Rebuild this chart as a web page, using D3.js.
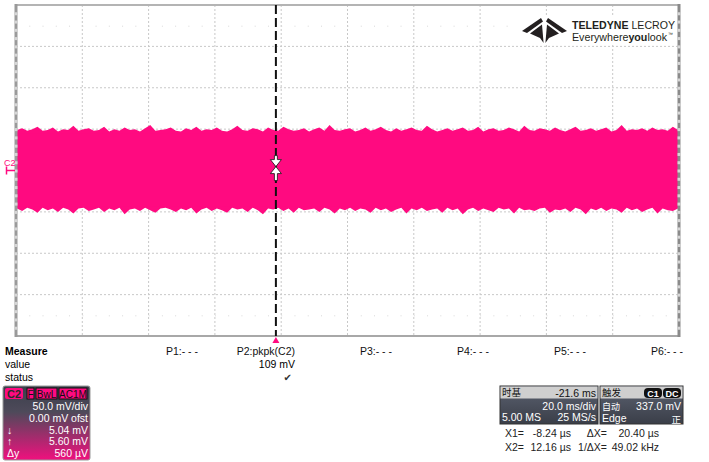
<!DOCTYPE html>
<html><head><meta charset="utf-8">
<script src="https://cdn.jsdelivr.net/npm/d3@7/dist/d3.min.js"></script>
<style>
html,body{margin:0;padding:0;background:#fff;}
svg{display:block;font-family:"Liberation Sans",Arial,sans-serif;}
</style></head>
<body>
<script>
// ---- data ----
const timeDomain = [-78.4, 121.6];          // ms, 20 ms/div, delay -21.6 ms
const voltDomain = [-200, 200];             // mV, 50 mV/div
const xDivisions = [1,2,3,4,5,6,7,8,9];
const yDivisions = [1,2,3,4,5,6,7];
// noise envelope of C2 (mV)
const upperEnv = [49,51,48,50,53,48,49,52,47,50,49,54,48,50,51,48,49,53,47,50,48,52,49,50,47,51,55,48,49,50,52,48,47,51,49,53,48,50,49,52,48,47,50,54,49,48,51,50,47,52,49,48,53,50,48,49,51,47,50,52,48,55,49,48,50,51,47,49,52,48,50,53,49,47,51,48,50,52,49,48,54,50,47,49,51,48,50,52,48,49,53,47,50,51,48,49,52,50,47,54,49,48,51,50,48,52,49,47,50,53,48,49,51,48,50,52,47,49,55,48,50,49,51,48,52,49,50,48,53,49];
const lowerEnv = [-46,-49,-45,-47,-51,-45,-48,-46,-50,-45,-47,-52,-46,-45,-49,-47,-45,-50,-46,-48,-45,-53,-47,-46,-49,-45,-48,-51,-46,-45,-47,-50,-46,-48,-45,-52,-47,-45,-49,-46,-48,-51,-45,-47,-46,-50,-45,-48,-53,-46,-47,-45,-49,-46,-51,-45,-48,-47,-46,-50,-45,-47,-52,-46,-48,-45,-49,-46,-47,-51,-45,-48,-46,-50,-47,-45,-52,-46,-48,-45,-49,-47,-46,-51,-45,-48,-46,-53,-47,-45,-49,-46,-48,-50,-45,-47,-46,-52,-45,-48,-47,-49,-46,-45,-51,-47,-48,-46,-50,-45,-47,-53,-46,-48,-45,-49,-46,-47,-51,-45,-48,-46,-50,-47,-45,-52,-46,-48,-49,-46];
const triggerTime = 0;
const paramLabels = ["P1:- - -","P2:pkpk(C2)","P3:- - -","P4:- - -","P5:- - -","P6:- - -"];
const paramValues = ["","109 mV","","","",""];
const paramStatus = ["","\u2714","","","",""];
const c2Rows = [["","50.0 mV/div"],["","0.00 mV ofst"],["\u2193","5.04 mV"],["\u2191","5.60 mV"],["\u0394y","560 \u00b5V"]];
const c2Tags = ["F","BwL","AC1M"];
const tbHeader = ["\u65f6\u57fa","-21.6 ms"];
const tbRows = [["","20.0 ms/div"],["5.00 MS","25 MS/s"]];
const trHeader = "\u89e6\u53d1";
const trTags = ["C1","DC"];
const trRows = [["\u81ea\u52a8","337.0 mV"],["Edge","\u6b63"]];
const cursorRows = [["X1=","-8.24 \u00b5s","\u0394X=","20.40 \u00b5s"],["X2=","12.16 \u00b5s","1/\u0394X=","49.02 kHz"]];

// ---- layout ----
const W=709,H=462;
const L=16,R=679,T=5,B=336;
const MAG="#ff0a80";
const svg=d3.select("body").append("svg").attr("width",W).attr("height",H);
const x=d3.scaleLinear().domain(timeDomain).range([L,R]);
const y=d3.scaleLinear().domain(voltDomain).range([B,T]);
const xd=d3.scaleLinear().domain([0,10]).range([L,R]);
const yd=d3.scaleLinear().domain([0,8]).range([T,B]);

// grid
const g=svg.append("g");
g.selectAll(".vg").data(xDivisions).join("line").attr("x1",d=>xd(d)).attr("x2",d=>xd(d)).attr("y1",T).attr("y2",B)
 .attr("stroke","#c8c8c8").attr("stroke-width",1).attr("stroke-dasharray","2,2");
g.selectAll(".hg").data(yDivisions).join("line").attr("y1",d=>yd(d)).attr("y2",d=>yd(d)).attr("x1",L).attr("x2",R)
 .attr("stroke","#c8c8c8").attr("stroke-width",1).attr("stroke-dasharray","2,2");
// faint minor dots
[0.5,7.5].forEach(r=>{
  g.selectAll(null).data(d3.range(1,50)).join("rect").attr("x",d=>xd(d/5)).attr("y",yd(r)).attr("width",1).attr("height",1).attr("fill","#d8d8d8");
});

// logo
const lg=svg.append("g");
lg.append("rect").attr("x",516).attr("y",15).attr("width",162).attr("height",30).attr("fill","#fff");
const ic=[[[522,31],[541,18],[543,21.5],[527,33]],[[567,31],[548,18],[546,21.5],[562,33]],
          [[530,33.5],[542,24.5],[543.6,43],[540,38]],[[559,33.5],[547,24.5],[545.4,43],[549,38]]];
lg.selectAll("polygon").data(ic).join("polygon").attr("points",d=>d.map(p=>p.join(",")).join(" ")).attr("fill","#231f20");
const t1=lg.append("text").attr("x",572).attr("y",28.5).attr("font-size",11).attr("fill","#231f20").attr("textLength",103).attr("lengthAdjust","spacingAndGlyphs");
t1.append("tspan").attr("font-weight","bold").text("TELEDYNE ");
t1.append("tspan").text("LECROY");
const t2=lg.append("text").attr("x",572).attr("y",40.5).attr("font-size",10.5).attr("fill","#231f20").attr("textLength",95).attr("lengthAdjust","spacingAndGlyphs");
t2.append("tspan").text("Everywhere");
t2.append("tspan").attr("font-weight","bold").text("you");
t2.append("tspan").text("look");
lg.append("text").attr("x",668).attr("y",35.5).attr("font-size",5).attr("fill","#231f20").text("\u2122");

// signal
const xu=d3.scaleLinear().domain([0,upperEnv.length-1]).range([L+1,R-1]);
const xl=d3.scaleLinear().domain([0,lowerEnv.length-1]).range([L+1,R-1]);
const pts=upperEnv.map((v,i)=>[xu(i),y(v)]).concat(lowerEnv.map((v,i)=>[xl(i),y(v)]).reverse());
svg.append("path").attr("d",d3.line()(pts)+"Z").attr("fill",MAG);
svg.append("rect").attr("x",L+1).attr("y",y(45)).attr("width",R-L-2).attr("height",y(-43)-y(45)).attr("fill",MAG);

// frame
svg.append("line").attr("x1",L).attr("x2",R).attr("y1",T).attr("y2",T).attr("stroke","#b4b4b4").attr("stroke-width",2);
svg.append("line").attr("x1",L).attr("x2",R).attr("y1",B).attr("y2",B).attr("stroke","#a8a8a8").attr("stroke-width",2);
svg.append("line").attr("x1",L).attr("x2",L).attr("y1",T-1).attr("y2",B+1).attr("stroke","#9a9a9a").attr("stroke-width",3);
svg.append("line").attr("x1",R).attr("x2",R).attr("y1",T-1).attr("y2",B+1).attr("stroke","#8a8a8a").attr("stroke-width",3);
[L,R].forEach(px=>{
  svg.selectAll(null).data(d3.range(1,40)).join("rect").attr("x",px-1.5).attr("y",d=>yd(d/5)-1).attr("width",3).attr("height",3).attr("fill","#d6d6d6");
});

// trigger line
const tx=x(triggerTime);
svg.append("line").attr("x1",tx).attr("x2",tx).attr("y1",T).attr("y2",B).attr("stroke","#111").attr("stroke-width",2).attr("stroke-dasharray","9,4");
svg.append("path").attr("d",`M${tx},${B+1}L${tx+3.5},${B+7}L${tx-3.5},${B+7}Z`).attr("fill",MAG);

// cursor marker
const cy=y(3.5);
svg.append("path").attr("d",`M${tx-1.5},${cy-12}H${tx+1.5}V${cy-8}H${tx+5.5}L${tx},${cy-1}L${tx+5.5},${cy+6}H${tx+1.5}V${cy+13}H${tx-1.5}V${cy+6}H${tx-5.5}L${tx},${cy-1}L${tx-5.5},${cy-8}H${tx-1.5}Z`)
 .attr("fill","#fff").attr("stroke","#111").attr("stroke-width",0.8);

// channel marker
svg.append("text").attr("x",4).attr("y",y(6)).attr("font-size",9).attr("fill",MAG).text("C2");
svg.append("path").attr("d",`M6,${y(0)}H15M6.5,${y(0)-4}V${y(0)+4}`).attr("stroke",MAG).attr("stroke-width",1.5).attr("fill","none");

// measure table
const fs=10.5;
svg.append("text").attr("x",5).attr("y",355).attr("font-size",fs).attr("font-weight","bold").text("Measure");
svg.append("text").attr("x",5).attr("y",368).attr("font-size",fs).text("value");
svg.append("text").attr("x",5).attr("y",381).attr("font-size",fs).text("status");
const colR=d3.scaleLinear().domain([0,5]).range([198,683]);
svg.selectAll(".pl").data(paramLabels).join("text").attr("x",(d,i)=>colR(i)).attr("y",355).attr("font-size",fs).attr("text-anchor","end").attr("fill","#111").text(d=>d);
svg.selectAll(".pv").data(paramValues).join("text").attr("x",(d,i)=>colR(i)).attr("y",368).attr("font-size",fs).attr("text-anchor","end").text(d=>d);
svg.selectAll(".ps").data(paramStatus).join("text").attr("x",(d,i)=>colR(i)-3).attr("y",381).attr("font-size",10).attr("fill","#333").attr("text-anchor","end").attr("font-family","DejaVu Sans").text(d=>d);

// C2 box
const defs=svg.append("defs");
const gr=defs.append("linearGradient").attr("id","c2g").attr("x1",0).attr("x2",0).attr("y1",0).attr("y2",1);
gr.append("stop").attr("offset","0%").attr("stop-color","#3a3f4b");
gr.append("stop").attr("offset","35%").attr("stop-color","#4e4a5a");
gr.append("stop").attr("offset","100%").attr("stop-color","#f0107e");
svg.append("rect").attr("x",3).attr("y",386).attr("width",87).attr("height",74).attr("rx",2).attr("fill","url(#c2g)").attr("stroke","#999");
svg.append("rect").attr("x",5).attr("y",388).attr("width",18).attr("height",11).attr("rx",2).attr("fill",MAG);
svg.append("text").attr("x",14).attr("y",397.5).attr("font-size",11).attr("font-weight","bold").attr("fill","#2a2a2a").attr("text-anchor","middle").text("C2");
const tagX=[27,36,59],tagW=[7,21,28];
c2Tags.forEach((t,i)=>{
  svg.append("rect").attr("x",tagX[i]).attr("y",388).attr("width",tagW[i]).attr("height",11).attr("fill",MAG).attr("stroke","#111").attr("stroke-width",1);
  svg.append("text").attr("x",tagX[i]+tagW[i]/2).attr("y",397.5).attr("font-size",10).attr("fill","#111").attr("text-anchor","middle").text(t);
});
c2Rows.forEach((r,i)=>{
  const yy=410+i*11.8;
  svg.append("text").attr("x",7).attr("y",yy).attr("font-size",fs).attr("fill","#fff").text(r[0]);
  svg.append("text").attr("x",88).attr("y",yy).attr("font-size",fs).attr("fill","#fff").attr("text-anchor","end").text(r[1]);
});

// timebase / trigger boxes
const dg=defs.append("linearGradient").attr("id","dkg").attr("x1",0).attr("x2",0).attr("y1",0).attr("y2",1);
dg.append("stop").attr("offset","0%").attr("stop-color","#5b6170");
dg.append("stop").attr("offset","100%").attr("stop-color","#3a3e48");
function box(x0,w){
  svg.append("rect").attr("x",x0).attr("y",386).attr("width",w).attr("height",38).attr("fill","url(#dkg)").attr("stroke","#333");
  svg.append("rect").attr("x",x0+0.5).attr("y",386.5).attr("width",w-1).attr("height",12).attr("fill","#cfcfcf");
}
box(500,98); box(600,83);
const cjk='"Noto Sans CJK SC",sans-serif';
svg.append("text").attr("x",502).attr("y",396).attr("font-size",9.5).attr("font-family",cjk).attr("fill","#111").text(tbHeader[0]);
svg.append("text").attr("x",596).attr("y",396.5).attr("font-size",fs).attr("fill","#111").attr("text-anchor","end").text(tbHeader[1]);
tbRows.forEach((r,i)=>{
  const yy=409.5+i*11.5;
  svg.append("text").attr("x",502).attr("y",yy).attr("font-size",fs).attr("fill","#fff").text(r[0]);
  svg.append("text").attr("x",596).attr("y",yy).attr("font-size",fs).attr("fill","#fff").attr("text-anchor","end").text(r[1]);
});
svg.append("text").attr("x",602).attr("y",396).attr("font-size",9.5).attr("font-family",cjk).attr("fill","#111").text(trHeader);
const trX=[644,663];
trTags.forEach((t,i)=>{
  svg.append("rect").attr("x",trX[i]).attr("y",388).attr("width",18).attr("height",10).attr("rx",4).attr("fill","#111");
  svg.append("text").attr("x",trX[i]+9).attr("y",396.5).attr("font-size",9).attr("font-weight","bold").attr("fill","#fff").attr("text-anchor","middle").text(t);
});
trRows.forEach((r,i)=>{
  const yy=409.5+i*11.5;
  const cj0=i===0, cj1=i===1;
  svg.append("text").attr("x",602).attr("y",cj0?yy:yy+0.5).attr("font-size",cj0?9:fs).attr("font-family",cj0?cjk:null).attr("fill","#fff").text(r[0]);
  svg.append("text").attr("x",681).attr("y",cj1?yy+1.5:yy).attr("font-size",cj1?9.5:fs).attr("font-family",cj1?cjk:null).attr("fill","#fff").attr("text-anchor","end").text(r[1]);
});
// cursor readouts
const cxs=[[505,"start"],[571,"end"],[607,"end"],[659,"end"]];
cursorRows.forEach((r,i)=>{
  const yy=437+i*14;
  r.forEach((t,j)=>{
    svg.append("text").attr("x",cxs[j][0]).attr("y",yy).attr("font-size",fs).attr("fill","#222").attr("text-anchor",cxs[j][1]).text(t);
  });
});
</script>
</body></html>
